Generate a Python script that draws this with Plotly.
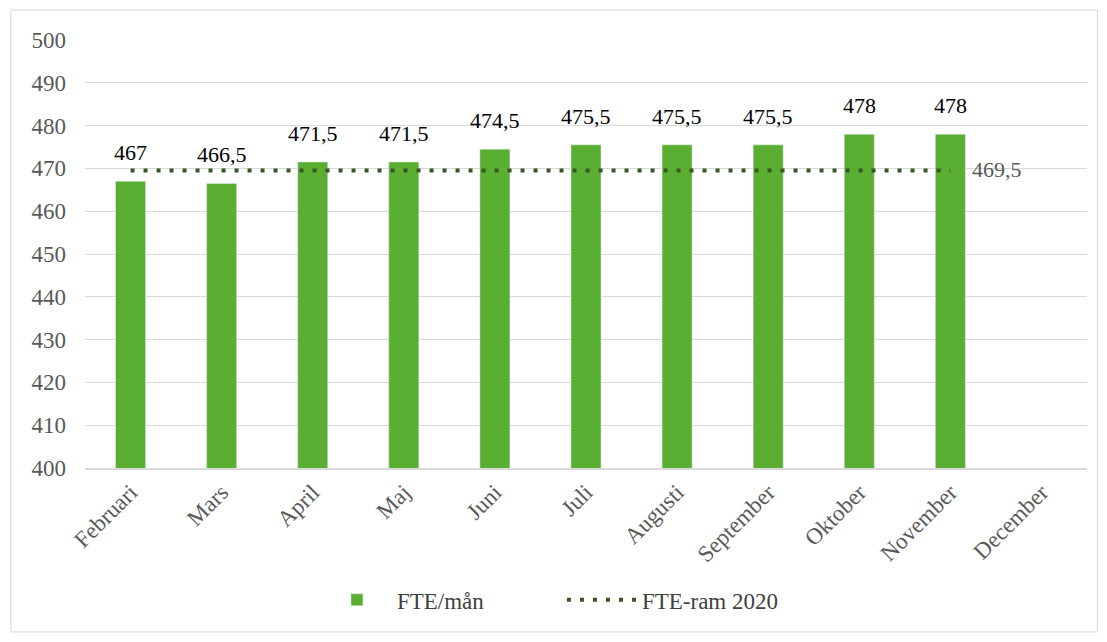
import plotly.graph_objects as go

months = ["Februari", "Mars", "April", "Maj", "Juni", "Juli", "Augusti",
          "September", "Oktober", "November", "December"]
fte_man = [467, 466.5, 471.5, 471.5, 474.5, 475.5, 475.5, 475.5, 478, 478, None]
fte_ram = [469.5] * 10
y_ticks = [400, 410, 420, 430, 440, 450, 460, 470, 480, 490, 500]


def fmt(v):
    if v is None:
        return ""
    s = ("%g" % v)
    return s.replace(".", ",")


FONT = "Liberation Serif"

fig = go.Figure()
fig.add_trace(go.Bar(
    x=months, y=fte_man,
    name="FTE/mån", marker_color="#5aae32",
))
fig.add_trace(go.Scatter(
    x=months[:10], y=fte_ram, name="FTE-ram 2020", mode="lines",
    line=dict(color="#375623", width=4, dash="4px,9px"),
))

for m, v in zip(months, fte_man):
    if v is None:
        continue
    fig.add_annotation(x=m, y=v, text=fmt(v), showarrow=False,
                       yanchor="bottom", yshift=14,
                       font=dict(family=FONT, size=22, color="#000000"))
fig.add_annotation(x=months[9], y=fte_ram[-1], text=fmt(fte_ram[-1]), showarrow=False,
                   xanchor="left", xshift=20, yshift=1,
                   font=dict(family=FONT, size=22, color="#595959"))

fig.update_layout(
    width=1099, height=634,
    margin=dict(l=77, r=20, t=32, b=174),
    paper_bgcolor="white", plot_bgcolor="white",
    bargap=0.67,
    font=dict(family=FONT, size=22, color="#595959"),
    legend=dict(orientation="h", x=0.476, xanchor="center", y=-0.308, yanchor="middle",
                itemwidth=70, entrywidth=160, entrywidthmode="pixels",
                font=dict(family=FONT, size=23, color="#404040")),
    xaxis=dict(tickangle=-45, showgrid=False, showline=True, linecolor="#d9d9d9",
               linewidth=1.5, automargin=False,
               tickfont=dict(family=FONT, size=23, color="#595959")),
    yaxis=dict(range=[400, 500], tickvals=y_ticks, showgrid=True, gridcolor="#d9d9d9",
               zeroline=False, ticks="", automargin=False, ticklabelstandoff=18,
               tickfont=dict(family=FONT, size=23, color="#595959")),
    shapes=[dict(type="rect", xref="paper", yref="paper",
                 x0=-0.074, x1=1.0105, y0=-0.383, y1=1.07,
                 line=dict(color="#d9d9d9", width=1))],
)
fig.write_html("out.html")
